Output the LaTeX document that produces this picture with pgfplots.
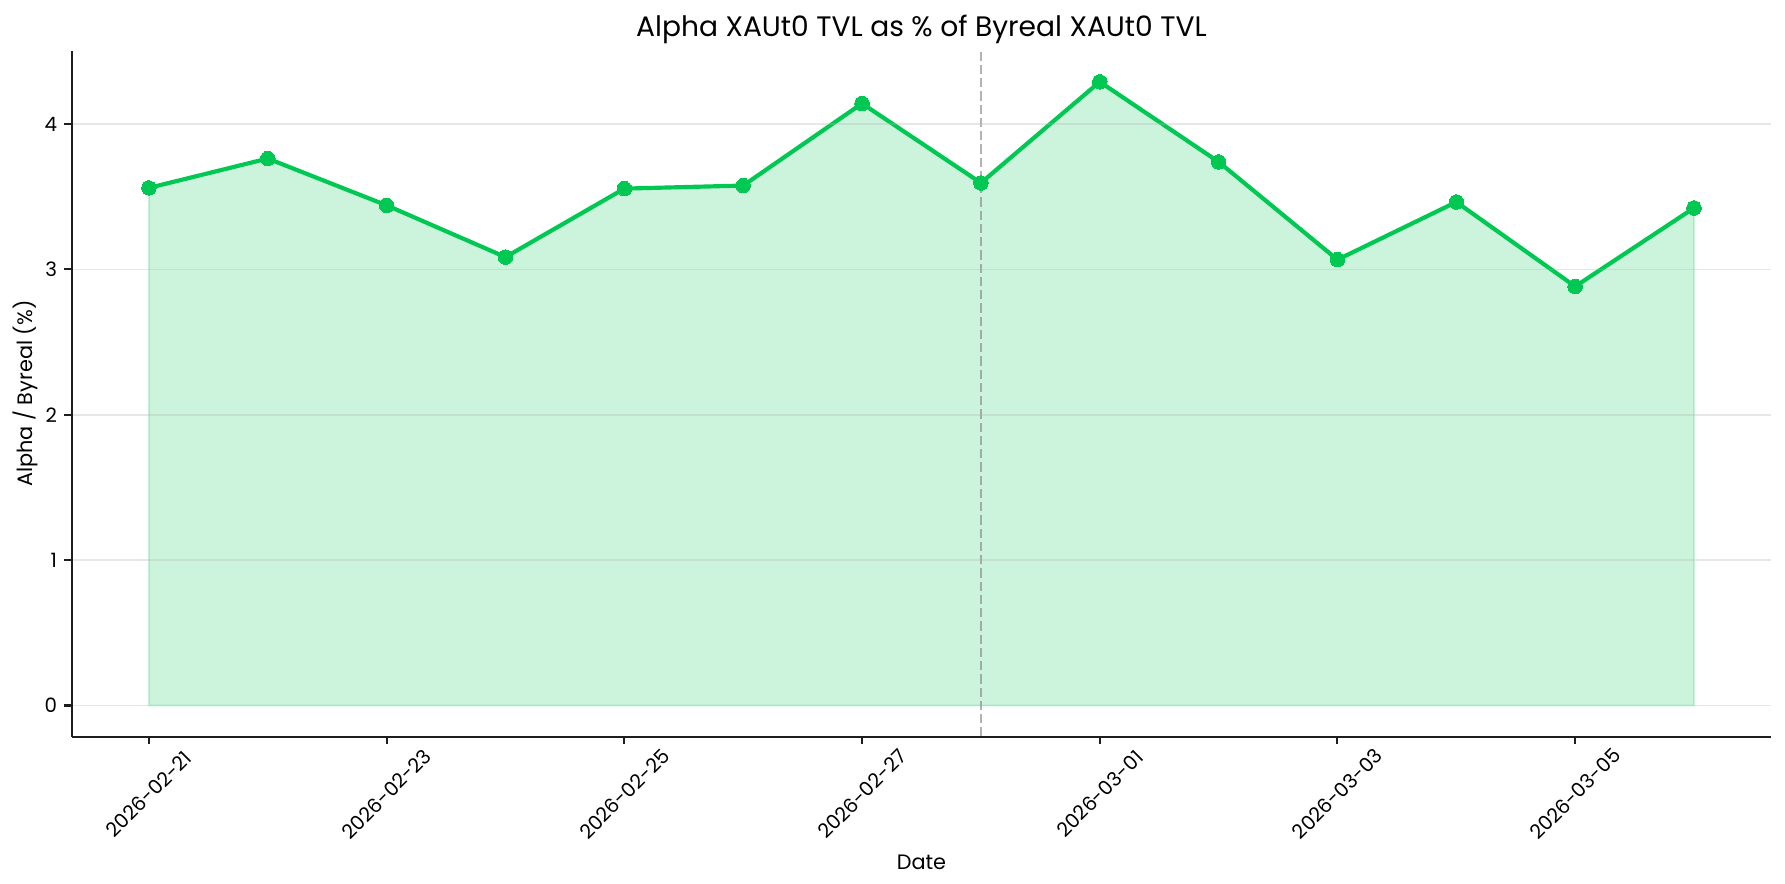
\documentclass[border=0pt]{standalone}
\usepackage{fontspec}
\setmainfont{Poppins}
\usepackage{pgfplots}
\pgfplotsset{compat=1.18}
\definecolor{lgreen}{RGB}{0,200,83}
\definecolor{gridc}{RGB}{176,176,176}
\definecolor{spine}{RGB}{30,30,30}
\pgfplotstableread{
x y
0 3.561
1 3.763
2 3.441
3 3.085
4 3.556
5 3.577
6 4.142
7 3.595
8 4.291
9 3.740
10 3.067
11 3.464
12 2.883
13 3.423
}\ratio
\begin{document}
\begin{tikzpicture}
\begin{axis}[
  at={(0,0)}, anchor=south west,
  scale only axis, width=815.8pt, height=329.3pt,
  xmin=-0.65, xmax=13.65, ymin=-0.2146, ymax=4.5056,
  axis x line=bottom, axis y line=left,
  axis line style={-, draw=spine, line width=1pt},
  tick style={draw=spine, line width=1pt},
  tick align=outside, major tick length=3.5pt,
  xtick={0,2,...,12},
  xticklabels={2026-02-21,2026-02-23,2026-02-25,2026-02-27,2026-03-01,2026-03-03,2026-03-05},
  ytick={0,1,2,3,4},
  /pgf/number format/assume math mode=true,
  xticklabel style={font=\fontsize{9.5}{11}\selectfont, yshift=-24pt, rotate=45, anchor=center},
  yticklabel style={font=\fontsize{9.5}{11}\selectfont},
  ymajorgrids, grid style={draw=gridc, draw opacity=0.3, line width=0.8pt},
  axis on top,
  title={Alpha XAUt0 TVL as \% of Byreal XAUt0 TVL},
  title style={at={(axis description cs:0.5,1)}, anchor=base, yshift=0.9pt, font=\fontsize{13.5}{15}\selectfont},
  xlabel={Date},
  xlabel style={at={([yshift=-60.5pt]axis description cs:0.5,0)}, anchor=center, font=\fontsize{10}{12}\selectfont},
  ylabel={Alpha / Byreal (\%)},
  ylabel style={at={([xshift=-22.4pt]axis description cs:0,0.5)}, anchor=center, font=\fontsize{10}{12}\selectfont},
]
\addplot[draw=lgreen, draw opacity=0.2, fill=lgreen, fill opacity=0.2, line width=0.8pt, forget plot] table[x=x,y=y] {\ratio} \closedcycle;
\addplot[draw=gray, draw opacity=0.6, line width=1.2pt, dash pattern=on 4.44pt off 1.92pt, forget plot] coordinates {(7,-0.2146) (7,4.5056)};
\addplot[draw=lgreen, line width=2pt, mark=*, mark size=3.5pt, mark options={solid, fill=lgreen, draw=lgreen, line width=0pt}] table[x=x,y=y] {\ratio};
\end{axis}
\pgfresetboundingbox
\path[use as bounding box] (-34.4pt,-70.7pt) rectangle (822.4pt,353.6pt);
\end{tikzpicture}
\end{document}
